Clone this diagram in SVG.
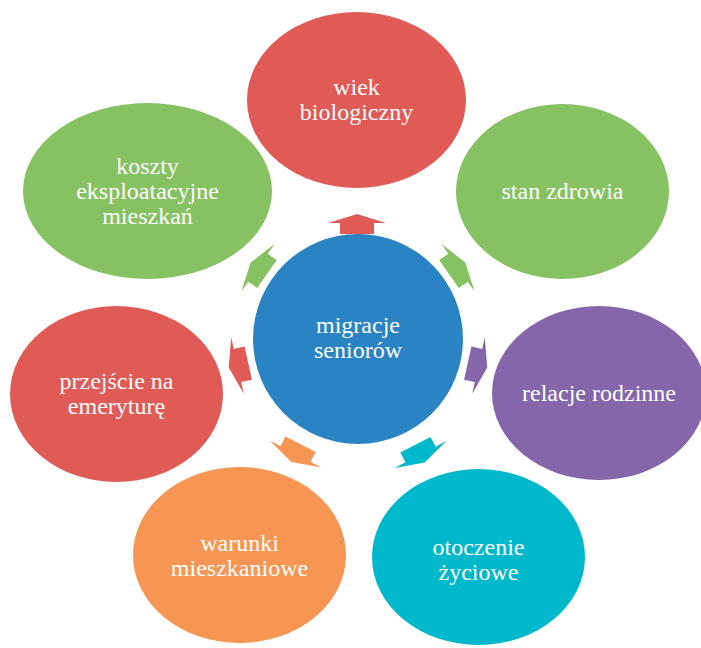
<svg xmlns="http://www.w3.org/2000/svg" xmlns:xlink="http://www.w3.org/1999/xlink" width="701" height="648" viewBox="0 0 701 648">
  <style>
    .lbl { font-family: "Liberation Serif", "Times New Roman", serif; font-size: 24px; fill: #ffffff; text-anchor: middle; }
    .red { fill: #E05A56; }
    .green { fill: #86C262; }
    .blue { fill: #2A84C3; }
    .purple { fill: #8566AA; }
    .cyan { fill: #00B8CC; }
    .orange { fill: #F79552; }
  </style>
  <defs>
    <!-- block arrow pointing up; origin at the middle of the head base -->
    <path id="arr" d="M0,-9 L29,0 L17,0 L17,11 L-17,11 L-17,0 L-29,0 Z"/>
  </defs>
  <rect width="701" height="648" fill="#ffffff"/>

  <g id="connectors">
    <use xlink:href="#arr" class="red" transform="translate(357,223) rotate(0)"/>
    <use xlink:href="#arr" class="green" transform="translate(458,267.7) rotate(55)"/>
    <use xlink:href="#arr" class="purple" transform="translate(478.5,365.5) rotate(102.5)"/>
    <use xlink:href="#arr" class="cyan" transform="translate(420.5,454.5) rotate(152.5)"/>
    <use xlink:href="#arr" class="orange" transform="translate(295.5,454) rotate(207.5)"/>
    <use xlink:href="#arr" class="red" transform="translate(237.5,365.5) rotate(257.5)"/>
    <use xlink:href="#arr" class="green" transform="translate(258,267.7) rotate(305)"/>
  </g>

  <g id="center">
    <circle class="blue" cx="358" cy="339" r="105"/>
    <text class="lbl" x="358" y="333">migracje</text>
    <text class="lbl" x="358" y="358">seniorów</text>
  </g>

  <g id="wiek">
    <ellipse class="red" cx="356.5" cy="100" rx="109.5" ry="88"/>
    <text class="lbl" x="356.5" y="95">wiek</text>
    <text class="lbl" x="356.5" y="120">biologiczny</text>
  </g>

  <g id="stan">
    <ellipse class="green" cx="562.5" cy="191.5" rx="106.5" ry="87.5"/>
    <text class="lbl" x="562.5" y="199">stan zdrowia</text>
  </g>

  <g id="relacje">
    <ellipse class="purple" cx="599" cy="393" rx="107" ry="87"/>
    <text class="lbl" x="599" y="401">relacje rodzinne</text>
  </g>

  <g id="otoczenie">
    <ellipse class="cyan" cx="478.5" cy="557" rx="106.5" ry="88"/>
    <text class="lbl" x="478.5" y="555">otoczenie</text>
    <text class="lbl" x="478.5" y="580">życiowe</text>
  </g>

  <g id="warunki">
    <ellipse class="orange" cx="239.5" cy="555" rx="106.5" ry="88"/>
    <text class="lbl" x="239.5" y="551">warunki</text>
    <text class="lbl" x="239.5" y="576">mieszkaniowe</text>
  </g>

  <g id="przejscie">
    <ellipse class="red" cx="116.5" cy="394" rx="106.5" ry="88"/>
    <text class="lbl" x="116.5" y="389">przejście na</text>
    <text class="lbl" x="116.5" y="414">emeryturę</text>
  </g>

  <g id="koszty">
    <ellipse class="green" cx="147.5" cy="191" rx="124.5" ry="88"/>
    <text class="lbl" x="147.5" y="174">koszty</text>
    <text class="lbl" x="147.5" y="199">eksploatacyjne</text>
    <text class="lbl" x="147.5" y="224">mieszkań</text>
  </g>
</svg>
